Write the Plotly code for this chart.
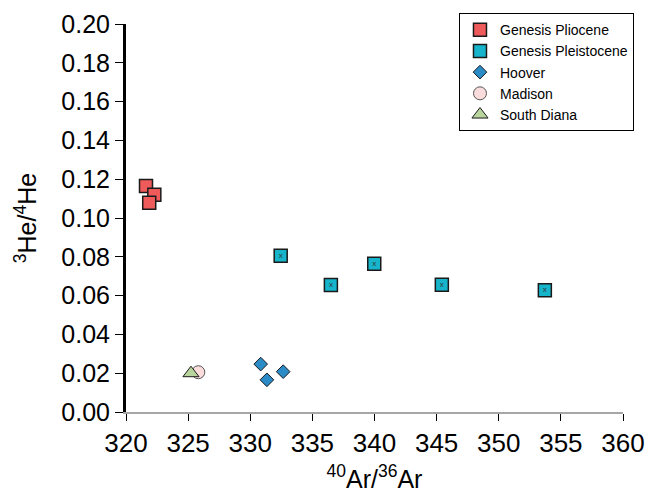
import plotly.graph_objects as go

plio_x = [321.61, 322.28, 321.87]
plio_y = [0.1165, 0.1120, 0.1079]
pleis_x = [332.45, 336.49, 339.98, 345.42, 353.71]
pleis_y = [0.0806, 0.0655, 0.0764, 0.0656, 0.0627]
hoover_x = [330.84, 331.34, 332.65]
hoover_y = [0.0247, 0.0166, 0.0208]
madison_x = [325.82]
madison_y = [0.0205]
diana_x = [325.23]
diana_y = [0.0200]

x_ticks = [320, 325, 330, 335, 340, 345, 350, 355, 360]
y_ticks = [0.00, 0.02, 0.04, 0.06, 0.08, 0.10, 0.12, 0.14, 0.16, 0.18, 0.20]

FONT = "Liberation Sans, Arial, sans-serif"
fig = go.Figure()

fig.add_trace(go.Scatter(x=plio_x, y=plio_y, mode="markers", name="Genesis Pliocene",
                         marker=dict(symbol="square", size=13, color="#EF5B5B",
                                     line=dict(color="#1a1a1a", width=1.5))))
fig.add_trace(go.Scatter(x=pleis_x, y=pleis_y, mode="markers", name="Genesis Pleistocene",
                         marker=dict(symbol="square", size=13, color="#16B5CC",
                                     line=dict(color="#1a1a1a", width=1.5))))
fig.add_trace(go.Scatter(x=pleis_x, y=pleis_y, mode="text", text=["x"] * len(pleis_x),
                         textposition="middle center", showlegend=False, hoverinfo="skip",
                         textfont=dict(size=8, color="#333333", family=FONT)))
fig.add_trace(go.Scatter(x=hoover_x, y=hoover_y, mode="markers", name="Hoover",
                         marker=dict(symbol="diamond", size=10.5, color="#2A8BC6",
                                     line=dict(color="#1a1a1a", width=1))))
fig.add_trace(go.Scatter(x=madison_x, y=madison_y, mode="markers", name="Madison",
                         marker=dict(symbol="circle", size=13, color="#FBDCDD",
                                     line=dict(color="#555555", width=1))))
fig.add_trace(go.Scatter(x=diana_x, y=diana_y, mode="markers", name="South Diana",
                         marker=dict(symbol="triangle-up", size=14, color="#B7D59C",
                                     line=dict(color="#1a1a1a", width=1))))

fig.update_layout(
    width=648, height=500,
    margin=dict(l=126, r=25, t=24, b=88),
    paper_bgcolor="white", plot_bgcolor="white",
    font=dict(family=FONT, color="black"),
    legend=dict(x=0.670, y=1.028, xanchor="left", yanchor="top",
                bordercolor="black", borderwidth=1, bgcolor="white",
                font=dict(size=14, family=FONT), itemwidth=30),
    xaxis=dict(range=[320, 360], tickvals=x_ticks, ticktext=[str(v) for v in x_ticks],
               showgrid=False, zeroline=False, showline=True, linecolor="#A6A6A6", linewidth=2,
               ticks="outside", ticklen=7, tickcolor="black", tickwidth=1,
               tickfont=dict(size=26), automargin=False,
               title=dict(text="<sup>40</sup>Ar/<sup>36</sup>Ar", font=dict(size=25), standoff=13)),
    yaxis=dict(range=[0, 0.20], tickvals=y_ticks, ticktext=[f"{v:.2f}" for v in y_ticks],
               showgrid=False, zeroline=False, showline=True, linecolor="black", linewidth=3,
               ticks="outside", ticklen=8, tickcolor="black", tickwidth=1,
               tickfont=dict(size=25), automargin=False,
               title=dict(text="<sup>3</sup>He/<sup>4</sup>He", font=dict(size=25), standoff=18)),
)

# Remove the default page margin so the 648x500 figure fills the window exactly.
fig.write_html("out.html", config={"displayModeBar": False},
               post_script="document.body.style.margin='0';document.body.style.overflow='hidden';")
